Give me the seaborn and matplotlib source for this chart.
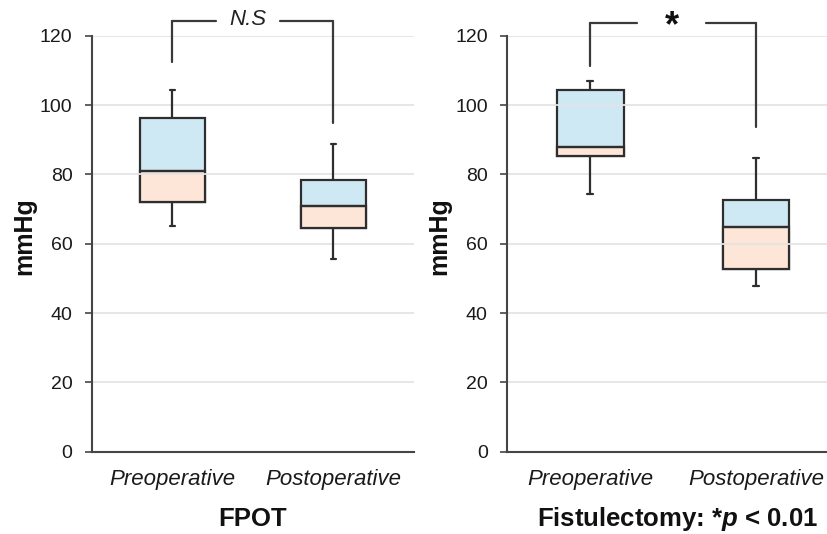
import numpy as np
import pandas as pd
import matplotlib
matplotlib.use("Agg")
import matplotlib.pyplot as plt
import seaborn as sns

# ---------------- data (five-number summaries) ----------------
categories = ["Preoperative", "Postoperative"]
panel_titles = ["FPOT", "Fistulectomy: *$\\mathit{p}$ < 0.01"]

# min, Q1, median, Q3, max
fpot_pre = [65.2, 72.0, 80.9, 96.4, 104.2]
fpot_post = [55.5, 64.4, 70.8, 78.3, 88.8]
fist_pre = [74.2, 85.3, 87.8, 104.2, 106.8]
fist_post = [47.8, 52.6, 64.7, 72.7, 84.8]

# significance brackets: top level, left leg end, right leg end
bracket_fpot = [124.2, 112.4, 94.8]
bracket_fist = [123.6, 111.2, 93.7]
sig_labels = ["N.S", "*"]

yticks = [0, 20, 40, 60, 80, 100, 120]

# ---------------- style ----------------
sns.set_theme(style="white")
plt.rcParams["font.family"] = ["Liberation Sans", "DejaVu Sans"]
plt.rcParams["mathtext.fontset"] = "custom"
plt.rcParams["mathtext.it"] = "Liberation Sans:italic:bold"
plt.rcParams["mathtext.rm"] = "Liberation Sans:bold"

BLUE = "#cfe9f4"
PEACH = "#fde5d7"
DARK = "#2e2e2e"
SPINE = "#454545"
GRID = "#e4e4e4"

fig = plt.figure(figsize=(8.28, 5.34), dpi=100)
ax_l = fig.add_axes([0.1111, 0.1541, 0.3889, 0.779])
ax_r = fig.add_axes([0.6127, 0.1541, 0.3873, 0.779])

panels = [
    (ax_l, fpot_pre, fpot_post, bracket_fpot, sig_labels[0], panel_titles[0], 1.5, 0.5, (0.27, 0.668)),
    (ax_r, fist_pre, fist_post, bracket_fist, sig_labels[1], panel_titles[1], 1.432, 0.532, (0.28, 0.697)),
]

for ax, pre, post, br, sig, title, xmax, xlab_pos, gap in panels:
    df = pd.DataFrame({
        "period": [categories[0]] * len(pre) + [categories[1]] * len(post),
        "mmHg": pre + post,
    })
    for y in yticks[1:]:
        ax.axhline(y, color=GRID, lw=1.3, zorder=0)
    sns.boxplot(data=df, x="period", y="mmHg", order=categories, whis=(0, 100),
                width=0.4, color=BLUE, linecolor=DARK, linewidth=1.6,
                saturation=1, showfliers=False, ax=ax)
    # lower half of the box (Q1 -> median) in peach
    q1 = np.array([pre[1], post[1]])
    med = np.array([pre[2], post[2]])
    ax.bar([0, 1], med - q1, bottom=q1, width=0.4, color=PEACH,
           edgecolor=DARK, linewidth=1.6, zorder=2.05)
    # narrow whisker caps
    for line in ax.lines:
        xd = np.asarray(line.get_xdata(), dtype=float)
        yd = np.asarray(line.get_ydata(), dtype=float)
        if len(xd) == 2 and yd[0] == yd[1] and abs(xd[1] - xd[0]) < 0.35:
            c = xd.mean()
            line.set_xdata([c - 0.017, c + 0.017])
    for line in ax.lines:
        line.set_zorder(max(line.get_zorder(), 2.1))

    # significance bracket
    top, lleg, rleg = br
    kw = dict(color="#3a3a3a", lw=1.6, clip_on=False, zorder=3)
    ax.plot([0, 0], [lleg, top], **kw)
    ax.plot([1, 1], [rleg, top], **kw)
    ax.plot([0, gap[0]], [top, top], **kw)
    ax.plot([gap[1], 1], [top, top], **kw)
    if sig == "*":
        ax.text(0.49, top - 1.0, sig, ha="center", va="center", fontsize=26,
                fontweight="bold", color="#111111", clip_on=False)
    else:
        ax.text(0.47, top + 0.4, sig, ha="center", va="center", fontsize=16,
                fontstyle="italic", color="#222222", clip_on=False)

    ax.set_xlim(-0.5, xmax)
    ax.set_ylim(0, 120)
    ax.set_yticks(yticks)
    ax.set_yticklabels([str(v) for v in yticks], fontsize=14, color="#1a1a1a")
    ax.set_xticks([0, 1])
    ax.set_xticklabels(categories, fontsize=16, fontstyle="italic", color="#1a1a1a")
    ax.tick_params(axis="y", length=5, width=1.2, color=SPINE, pad=9, left=True)
    ax.tick_params(axis="x", length=0, pad=12.5)
    for s in ["top", "right"]:
        ax.spines[s].set_visible(False)
    for s in ["left", "bottom"]:
        ax.spines[s].set_color(SPINE)
        ax.spines[s].set_linewidth(1.5)
    ax.set_ylabel("mmHg", fontsize=18, fontweight="bold", color="#111111")
    ax.yaxis.label.set_va("center")
    ax.yaxis.set_label_coords(-0.211, 0.518)
    ax.set_xlabel(title, fontsize=18.5, fontweight="bold", color="#111111")
    ax.xaxis.label.set_va("baseline")
    ax.xaxis.set_label_coords(xlab_pos, -0.178)
    ax.set_facecolor("white")

fig.savefig("out.png", dpi=100)
